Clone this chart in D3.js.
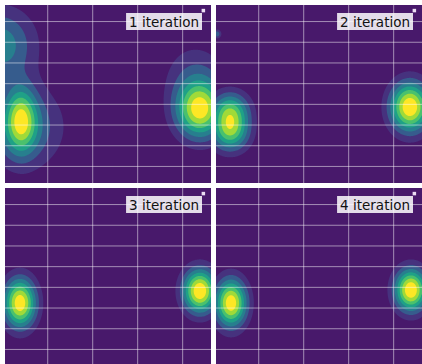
<!DOCTYPE html>
<html>
<head>
<meta charset="utf-8">
<script src="https://cdn.jsdelivr.net/npm/d3@7"></script>
<style>
  body { margin: 0; background: #fff; }
  svg { display: block; }
</style>
</head>
<body>
<div id="chart"></div>
<script>
var svgWidth = 422;
var svgHeight = 364;

// panel labels
var panelTitles = ["1 iteration", "2 iteration", "3 iteration", "4 iteration"];

// grid ticks (data units)
var xTicks = [0, 1, 2, 3];
var yTicks = [0, 1, 2, 3, 4, 5, 6, 7];

// density blobs: [cx, cy, sx, sy, peak]
var blobs1 = [
  [-0.594, 2.244, 0.240, 1.063, 0.68],
  [-0.550, 1.906, 0.600, 1.353, 0.42],
  [3.383, 2.728, 0.378, 0.966, 1.00],
  [3.272, 4.418, 0.489, 1.159, 0.22],
  [-1.061, 5.900, 0.533, 1.200, 0.50]
];
var blobs2 = [
  [-0.639, 2.680, 0.300, 0.650, 0.64],
  [-0.639, 1.620, 0.300, 0.650, 0.64],
  [3.361, 2.872, 0.311, 0.845, 1.00],
  [-0.93, 6.40, 0.07, 0.15, 0.35]
];
var blobs3 = [
  [-0.617, 2.244, 0.256, 0.845, 0.97],
  [3.383, 2.824, 0.267, 0.749, 1.00]
];
var blobs4 = [
  [-0.617, 2.244, 0.251, 0.821, 0.97],
  [3.383, 2.872, 0.256, 0.725, 1.00]
];
var panelBlobs = [blobs1, blobs2, blobs3, blobs4];

// small marker in the top right corner
var markerX = 3.46;
var markerY = 7.53;

var nLevels = 8;

var panelW = 206;
var panelH = 178;
var panelPos = [[5, 5], [216, 5], [5, 188], [216, 188]];

var x = d3.scaleLinear().domain([-0.95, 3.63]).range([0, panelW]);
var y = d3.scaleLinear().domain([-0.8, 7.8]).range([panelH, 0]);

var svg = d3.select("#chart")
  .append("svg")
  .attr("width", svgWidth)
  .attr("height", svgHeight);

function density(blobs, xv, yv) {
  var s = 0;
  blobs.forEach(function(b) {
    var dx = (xv - b[0]) / b[2];
    var dy = (yv - b[1]) / b[3];
    s += b[4] * Math.exp(-0.5 * (dx * dx + dy * dy));
  });
  return s;
}

panelBlobs.forEach(function(blobs, p) {
  var g = svg.append("g")
    .attr("transform", `translate(${panelPos[p][0]}, ${panelPos[p][1]})`);

  g.append("clipPath")
    .attr("id", "clip" + p)
    .append("rect")
    .attr("width", panelW)
    .attr("height", panelH);

  var inner = g.append("g").attr("clip-path", `url(#clip${p})`);

  // evaluate the field on a pixel grid
  var values = new Array(panelW * panelH);
  for (var j = 0; j < panelH; j++) {
    for (var i = 0; i < panelW; i++) {
      values[i + j * panelW] = density(blobs, x.invert(i + 0.5), y.invert(j + 0.5));
    }
  }
  var maxV = d3.max(values);
  var thresholds = d3.range(1, nLevels).map(k => k * maxV / nLevels);

  inner.append("rect")
    .attr("width", panelW)
    .attr("height", panelH)
    .attr("fill", "#48196b");

  var contours = d3.contours()
    .size([panelW, panelH])
    .thresholds(thresholds)(values);

  inner.selectAll("path.band")
    .data(contours)
    .enter()
    .append("path")
    .attr("class", "band")
    .attr("d", d3.geoPath())
    .attr("fill", (d, k) => d3.interpolateViridis((k + 1) / (nLevels - 1)));

  // grid
  inner.selectAll("line.gx")
    .data(xTicks)
    .enter()
    .append("line")
    .attr("x1", d => x(d)).attr("x2", d => x(d))
    .attr("y1", 0).attr("y2", panelH)
    .attr("stroke", "#fff")
    .attr("stroke-opacity", 0.5)
    .attr("stroke-width", 1);

  inner.selectAll("line.gy")
    .data(yTicks)
    .enter()
    .append("line")
    .attr("y1", d => y(d)).attr("y2", d => y(d))
    .attr("x1", 0).attr("x2", panelW)
    .attr("stroke", "#fff")
    .attr("stroke-opacity", 0.5)
    .attr("stroke-width", 1);

  inner.append("rect")
    .attr("x", x(markerX) - 1.75)
    .attr("y", y(markerY) - 1.75)
    .attr("width", 3.5)
    .attr("height", 3.5)
    .attr("fill", "#eadcf2");

  // label box
  var label = inner.append("text")
    .attr("x", 194)
    .attr("y", 22)
    .attr("text-anchor", "end")
    .attr("font-family", "DejaVu Sans")
    .attr("font-size", 13.5)
    .attr("fill", "#111")
    .text(panelTitles[p]);

  var bb = label.node().getBBox();
  inner.insert("rect", "text")
    .attr("x", bb.x - 3)
    .attr("y", 8)
    .attr("width", bb.width + 6)
    .attr("height", 17)
    .attr("fill", "#fff")
    .attr("fill-opacity", 0.85);
});
</script>
</body>
</html>
